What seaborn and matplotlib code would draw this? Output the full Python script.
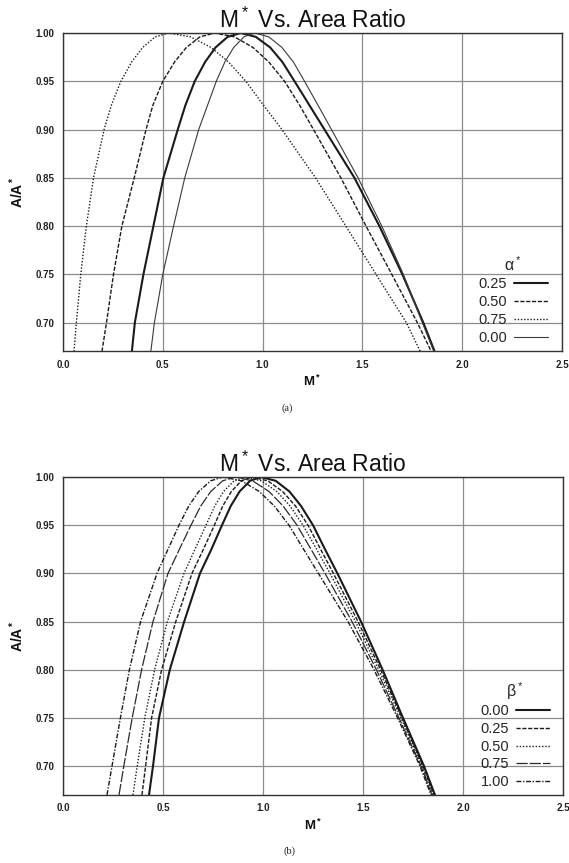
import matplotlib
matplotlib.use("Agg")
import matplotlib.pyplot as plt
import seaborn as sns

sns.set_theme(style="whitegrid")
plt.rcParams["font.family"] = ["Liberation Sans", "DejaVu Sans"]
plt.rcParams["mathtext.default"] = "regular"

# Area ratio levels, walked from the subsonic branch up to the peak and back down
area_ratio = [0.67, 0.70, 0.75, 0.80, 0.85, 0.90, 0.925, 0.95, 0.97, 0.985, 0.996, 1.00,
              0.996, 0.985, 0.97, 0.95, 0.925, 0.90, 0.85, 0.80, 0.75, 0.70, 0.67]

# (a) Mach number along each curve, by alpha*
alpha_labels = ["0.25", "0.50", "0.75", "0.00"]
mach_alpha_025 = [0.345, 0.36, 0.403, 0.453, 0.503, 0.575, 0.613, 0.66, 0.712, 0.764, 0.825, 0.89,
                  0.966, 1.038, 1.099, 1.16, 1.235, 1.31, 1.46, 1.585, 1.70, 1.805, 1.862]
mach_alpha_050 = [0.195, 0.218, 0.253, 0.295, 0.357, 0.416, 0.45, 0.50, 0.559, 0.618, 0.686, 0.76,
                  0.859, 0.952, 1.031, 1.11, 1.186, 1.255, 1.392, 1.518, 1.647, 1.775, 1.845]
mach_alpha_075 = [0.055, 0.067, 0.089, 0.117, 0.153, 0.206, 0.242, 0.29, 0.344, 0.399, 0.462, 0.53,
                  0.639, 0.742, 0.829, 0.916, 1.005, 1.097, 1.265, 1.417, 1.568, 1.72, 1.79]
mach_alpha_000 = [0.44, 0.458, 0.50, 0.554, 0.61, 0.68, 0.724, 0.768, 0.811, 0.855, 0.906, 0.96,
                  1.031, 1.097, 1.154, 1.21, 1.278, 1.345, 1.478, 1.597, 1.705, 1.80, 1.858]

# (b) Mach number along each curve, by beta*
beta_labels = ["0.00", "0.25", "0.50", "0.75", "1.00"]
mach_beta_000 = [0.43, 0.45, 0.48, 0.534, 0.606, 0.685, 0.742, 0.795, 0.839, 0.883, 0.935, 0.99,
                 1.064, 1.132, 1.19, 1.25, 1.31, 1.372, 1.49, 1.598, 1.70, 1.805, 1.86]
mach_beta_025 = [0.395, 0.413, 0.443, 0.493, 0.564, 0.645, 0.702, 0.757, 0.799, 0.842, 0.892, 0.945,
                 1.024, 1.098, 1.162, 1.225, 1.288, 1.352, 1.475, 1.588, 1.695, 1.80, 1.855]
mach_beta_050 = [0.35, 0.371, 0.409, 0.458, 0.522, 0.605, 0.66, 0.715, 0.759, 0.803, 0.855, 0.91,
                 0.992, 1.069, 1.135, 1.20, 1.268, 1.335, 1.462, 1.578, 1.69, 1.795, 1.85]
mach_beta_075 = [0.28, 0.304, 0.346, 0.393, 0.45, 0.525, 0.582, 0.64, 0.689, 0.739, 0.798, 0.86,
                 0.948, 1.03, 1.10, 1.17, 1.24, 1.31, 1.445, 1.567, 1.68, 1.79, 1.845]
mach_beta_100 = [0.22, 0.245, 0.287, 0.332, 0.388, 0.47, 0.525, 0.58, 0.629, 0.679, 0.738, 0.80,
                 0.893, 0.981, 1.056, 1.13, 1.203, 1.277, 1.425, 1.555, 1.673, 1.785, 1.84]

x_ticks = [0.0, 0.5, 1.0, 1.5, 2.0, 2.5]
x_tick_labels = ["0.0", "0.5", "1.0", "1.5", "2.0", "2.5"]
y_ticks = [0.70, 0.75, 0.80, 0.85, 0.90, 0.95, 1.00]
y_tick_labels = ["0.70", "0.75", "0.80", "0.85", "0.90", "0.95", "1.00"]

SOLID_HEAVY = dict(color="#1a1a1a", linewidth=1.5, linestyle="-")
SOLID_LIGHT = dict(color="#3a3a3a", linewidth=0.8, linestyle="-")
DASHED = dict(color="#1a1a1a", linewidth=1.0, linestyle=(0, (3.0, 1.2)))
DOTTED = dict(color="#1a1a1a", linewidth=1.0, linestyle=(0, (1.0, 1.3)))
LONGDASH = dict(color="#2a2a2a", linewidth=0.9, linestyle=(0, (9.0, 1.5)))
DASHDOT = dict(color="#1a1a1a", linewidth=1.0, linestyle=(0, (3.5, 1.2, 1.0, 1.2)))

W, H = 569, 863
fig = plt.figure(figsize=(W / 100, H / 100), dpi=100)
fig.patch.set_facecolor("white")
ax_a = fig.add_axes([63 / W, 1 - 351.5 / H, 499 / W, 318.5 / H])
ax_b = fig.add_axes([63 / W, 1 - 795 / H, 500 / W, 318 / H])

series_a = [(mach_alpha_025, SOLID_HEAVY), (mach_alpha_050, DASHED),
            (mach_alpha_075, DOTTED), (mach_alpha_000, SOLID_LIGHT)]
for (mach, style), lab in zip(series_a, alpha_labels):
    sns.lineplot(x=mach, y=area_ratio, ax=ax_a, estimator=None, sort=False,
                 label=lab, **style)

series_b = [(mach_beta_000, SOLID_HEAVY), (mach_beta_025, DASHED),
            (mach_beta_050, DOTTED), (mach_beta_075, LONGDASH),
            (mach_beta_100, DASHDOT)]
for (mach, style), lab in zip(series_b, beta_labels):
    sns.lineplot(x=mach, y=area_ratio, ax=ax_b, estimator=None, sort=False,
                 label=lab, **style)


def style_axes(ax, legend_title, anchor, spacing):
    ax.set_facecolor("white")
    ax.set_xlim(0.0, 2.5)
    ax.set_ylim(0.67, 1.0)
    ax.set_xticks(x_ticks)
    ax.set_xticklabels(x_tick_labels, fontsize=7, fontweight="bold", color="#222222")
    ax.set_yticks(y_ticks)
    ax.set_yticklabels(y_tick_labels, fontsize=7, fontweight="bold", color="#222222")
    ax.tick_params(axis="both", length=2, width=0.8, color="#444444", pad=4)
    ax.grid(True, color="#8c8c8c", linewidth=0.9)
    for spine in ax.spines.values():
        spine.set_color("#333333")
        spine.set_linewidth(1.0)
    ax.set_title("M$^*$ Vs. Area Ratio", fontsize=16.5, pad=4, color="#111111")
    ax.set_xlabel("M$^*$", fontsize=9.5, fontweight="bold", labelpad=3, color="#111111")
    ax.set_ylabel("A/A$^*$", fontsize=10, fontweight="bold", labelpad=7, color="#111111")
    leg = ax.legend(title=legend_title, loc="lower right", bbox_to_anchor=anchor,
                    frameon=False, markerfirst=False, fontsize=10.5, title_fontsize=11.5,
                    borderpad=0, borderaxespad=0, handlelength=2.3, handletextpad=0.5,
                    labelspacing=spacing)
    leg._legend_box.sep = 2


style_axes(ax_a, "α$^*$", (0.972, 0.019), 0.28)
style_axes(ax_b, "β$^*$", (0.974, 0.019), 0.25)

fig.text(287 / W, 1 - 408 / H, "(a)", fontsize=7.5, family="Liberation Serif",
         ha="center", va="center", color="#222222")
fig.text(290 / W, 1 - 851 / H, "(b)", fontsize=7.5, family="Liberation Serif",
         ha="center", va="center", color="#222222")

fig.savefig("out.png", dpi=100, facecolor="white")
